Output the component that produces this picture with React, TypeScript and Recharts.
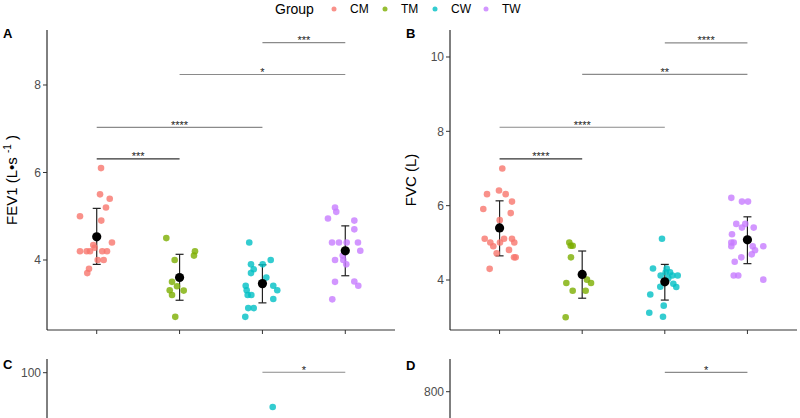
import React from "react";
import { ScatterChart, Scatter, XAxis, YAxis, ErrorBar, ReferenceLine } from "recharts";

const groups = ["CM", "TM", "CW", "TW"];
const colors = ["#F8766D", "#7CAE00", "#00BFC4", "#C77CFF"];

// points as [group position + jitter, value]
const fevCM = [[1.052, 6.1], [1.04, 5.5], [1.157, 5.4], [1.112, 5.2], [0.798, 5.0], [1.055, 4.9], [1.184, 4.4], [0.959, 4.34], [0.975, 4.28], [0.798, 4.2], [0.879, 4.2], [0.919, 4.2], [1.067, 4.2], [1.124, 4.2], [1.012, 4.0], [1.084, 4.0], [0.907, 3.8], [0.886, 3.7]];
const fevTM = [[1.84, 4.5], [2.186, 4.2], [2.174, 4.1], [1.941, 4.0], [1.909, 3.5], [1.969, 3.4], [1.881, 3.31], [2.05, 3.3], [1.909, 3.2], [1.948, 2.7]];
const fevCW = [[2.841, 4.4], [3.1, 4.0], [2.862, 3.9], [3.003, 3.9], [2.895, 3.79], [2.862, 3.7], [3.047, 3.6], [2.798, 3.41], [3.131, 3.41], [2.81, 3.31], [3.179, 3.31], [2.822, 3.2], [2.866, 3.2], [3.131, 3.11], [2.829, 2.9], [2.895, 2.9], [2.793, 2.7]];
const fevTW = [[3.876, 5.2], [3.891, 5.1], [3.791, 4.95], [4.109, 4.9], [4.109, 4.7], [3.84, 4.4], [3.924, 4.4], [4.017, 4.4], [4.153, 4.4], [4.181, 4.21], [3.969, 4.1], [3.876, 4.0], [3.976, 4.0], [4.012, 3.9], [3.876, 3.5], [4.109, 3.51], [4.157, 3.41], [3.843, 3.1]];

const fvcCM = [[1.033, 7.0], [0.993, 6.41], [0.848, 6.31], [1.074, 6.31], [1.15, 6.11], [0.803, 5.91], [1.135, 5.8], [1.002, 5.61], [0.82, 5.11], [1.054, 5.11], [1.15, 5.11], [0.888, 5.01], [0.924, 4.91], [1.005, 5.01], [1.178, 5.01], [1.114, 4.81], [0.965, 4.72], [1.175, 4.61], [1.195, 4.61], [0.88, 4.3]];
const fvcTM = [[1.844, 5.01], [1.861, 4.92], [1.885, 4.92], [1.864, 4.61], [2.058, 4.01], [2.107, 3.92], [1.808, 3.92], [1.885, 3.71], [2.042, 3.71], [1.8, 3.0]];
const fvcCW = [[2.966, 5.11], [2.857, 4.31], [3.023, 4.31], [3.063, 4.21], [3.011, 4.21], [2.95, 4.12], [3.091, 4.12], [3.156, 4.12], [3.042, 4.05], [3.103, 3.9], [2.945, 3.82], [3.139, 3.81], [2.824, 3.61], [2.987, 3.31], [2.812, 3.12], [2.978, 3.01]];
const fvcTW = [[3.805, 6.21], [3.934, 6.11], [4.007, 6.11], [3.865, 5.51], [3.974, 5.51], [3.934, 5.41], [4.076, 5.41], [3.813, 5.23], [3.805, 5.01], [3.834, 5.01], [3.805, 4.91], [4.064, 4.91], [4.192, 4.91], [4.092, 4.8], [4.052, 4.69], [3.926, 4.61], [3.846, 4.49], [3.834, 4.12], [3.889, 4.12], [4.192, 4.01]];

const cCW = [[3.124, 92.5]];
const dTM = [[1.998, 721]];

// mean with [below, above] error
const fevMean = [4.53, 3.6, 3.46, 4.21];
const fevErr = [[0.63, 0.65], [0.52, 0.53], [0.44, 0.43], [0.57, 0.57]];
const fvcMean = [5.4, 4.15, 3.95, 5.08];
const fvcErr = [[0.75, 0.73], [0.64, 0.63], [0.49, 0.47], [0.64, 0.62]];

// significance brackets: [from, to, height, label]
const fevSig: [number, number, number, string][] = [[3, 4, 8.97, "***"], [2, 4, 8.24, "*"], [1, 3, 7.03, "****"], [1, 2, 6.31, "***"]];
const fvcSig: [number, number, number, string][] = [[3, 4, 10.38, "****"], [2, 4, 9.53, "**"], [1, 3, 8.11, "****"], [1, 2, 7.26, "****"]];
const cSig: [number, number, number, string][] = [[3, 4, 100.1, "*"]];
const dSig: [number, number, number, string][] = [[3, 4, 851.7, "*"]];

const toPts = (a: number[][]) => a.map(([x, y]) => ({ x, y }));

const dotShape = (fill: string) => (p: any) => (
  <circle cx={p.cx} cy={p.cy} r={3.3} fill={fill} fillOpacity={0.8} />
);
const meanShape = (p: any) => <circle cx={p.cx} cy={p.cy} r={4.6} fill="#000" />;

function AxisTitle(props: any) {
  const { viewBox, text, sup, rest, dx } = props;
  const vb = viewBox || { x: 0, y: 30, width: 47, height: 300 };
  const x = vb.x + dx;
  const y = vb.y + vb.height / 2;
  return (
    <text x={x} y={y} transform={`rotate(-90, ${x}, ${y})`} textAnchor="middle" fontSize={15} fill="#000">
      {text}
      {sup ? <tspan fontSize={10} dy={-6}>{sup}</tspan> : null}
      {rest ? <tspan dy={6}>{rest}</tspan> : null}
    </text>
  );
}

function Panel(props: any) {
  const { left, top, height, marginTop, right, yWidth, domain, ticks, series, mean, err, sig, title } = props;
  const meanData = mean ? mean.map((m: number, i: number) => ({ x: i + 1, y: m, e: err[i] })) : [];
  return (
    <div style={{ position: "absolute", left, top }}>
      <ScatterChart width={400} height={height} margin={{ top: marginTop, right, bottom: 0, left: 0 }}>
        <XAxis
          type="number"
          dataKey="x"
          domain={[0.4, 4.6]}
          ticks={[1, 2, 3, 4]}
          tickFormatter={() => ""}
          height={10}
          tickSize={4}
          allowDataOverflow
          axisLine={{ stroke: "#333" }}
          tickLine={{ stroke: "#333" }}
        />
        <YAxis
          type="number"
          dataKey="y"
          domain={domain}
          ticks={ticks}
          width={yWidth}
          allowDataOverflow
          tickSize={4}
          tick={{ fill: "#4D4D4D", fontSize: 12 }}
          axisLine={{ stroke: "#000" }}
          tickLine={{ stroke: "#333" }}
          label={title}
        />
        {sig.map(([a, b, h, s]: any, i: number) => (
          <ReferenceLine
            key={"s" + i}
            segment={[{ x: a, y: h }, { x: b, y: h }]}
            stroke={a === 1 && b === 2 ? "#333" : "#8a8a8a"}
            strokeWidth={1.2}
            label={{ value: s, position: "top", offset: -1.5, fontSize: 11, fill: "#222", style: { fill: "#222" } }}
          />
        ))}
        {series.map((d: number[][], i: number) =>
          d ? (
            <Scatter key={groups[i]} name={groups[i]} data={toPts(d)} shape={dotShape(colors[i])} isAnimationActive={false} />
          ) : null
        )}
        {mean ? (
          <Scatter name="mean" data={meanData} shape={meanShape} isAnimationActive={false}>
            <ErrorBar dataKey="e" direction="y" width={4} stroke="#222" strokeWidth={1.2} isAnimationActive={false} />
          </Scatter>
        ) : null}
      </ScatterChart>
    </div>
  );
}

const legendDotX = [334, 385, 435, 486];

export default function App() {
  return (
    <div
      style={{
        position: "absolute",
        left: 0,
        top: 0,
        width: 800,
        height: 418,
        overflow: "hidden",
        background: "#fff",
        fontFamily: "'Liberation Sans', Arial, sans-serif",
      }}
    >
      <Panel
        left={0}
        top={0}
        height={340}
        marginTop={30}
        right={5}
        yWidth={47}
        domain={[2.4, 9.257]}
        ticks={[4, 6, 8]}
        series={[fevCM, fevTM, fevCW, fevTW]}
        mean={fevMean}
        err={fevErr}
        sig={fevSig}
        title={<AxisTitle text="FEV1 (L•s " sup="-1" rest=" )" dx={17} />}
      />
      <Panel
        left={400}
        top={0}
        height={340}
        marginTop={30}
        right={3}
        yWidth={50}
        domain={[2.655, 10.726]}
        ticks={[4, 6, 8, 10]}
        series={[fvcCM, fvcTM, fvcCW, fvcTW]}
        mean={fvcMean}
        err={fvcErr}
        sig={fvcSig}
        title={<AxisTitle text="FVC (L)" dx={16} />}
      />
      <Panel
        left={0}
        top={349}
        height={320}
        marginTop={10}
        right={5}
        yWidth={47}
        domain={[37.3, 103]}
        ticks={[100]}
        series={[null, null, cCW, null]}
        sig={cSig}
      />
      <Panel
        left={400}
        top={349}
        height={320}
        marginTop={10}
        right={3}
        yWidth={50}
        domain={[87.2, 887.2]}
        ticks={[800]}
        series={[null, dTM, null, null]}
        sig={dSig}
      />
      <svg width={800} height={418} style={{ position: "absolute", left: 0, top: 0, pointerEvents: "none" }}>
        <text x={275} y={14} fontSize={14} fill="#000">Group</text>
        {groups.map((g, i) => (
          <g key={g}>
            <circle cx={legendDotX[i]} cy={9} r={2.5} fill={colors[i]} fillOpacity={0.8} />
            <text x={legendDotX[i] + 16} y={13} fontSize={12} fill="#000">{g}</text>
          </g>
        ))}
        <text x={3} y={38} fontSize={13} fontWeight="bold">A</text>
        <text x={406} y={38} fontSize={13} fontWeight="bold">B</text>
        <text x={3} y={369} fontSize={13} fontWeight="bold">C</text>
        <text x={406} y={370} fontSize={13} fontWeight="bold">D</text>
      </svg>
    </div>
  );
}
